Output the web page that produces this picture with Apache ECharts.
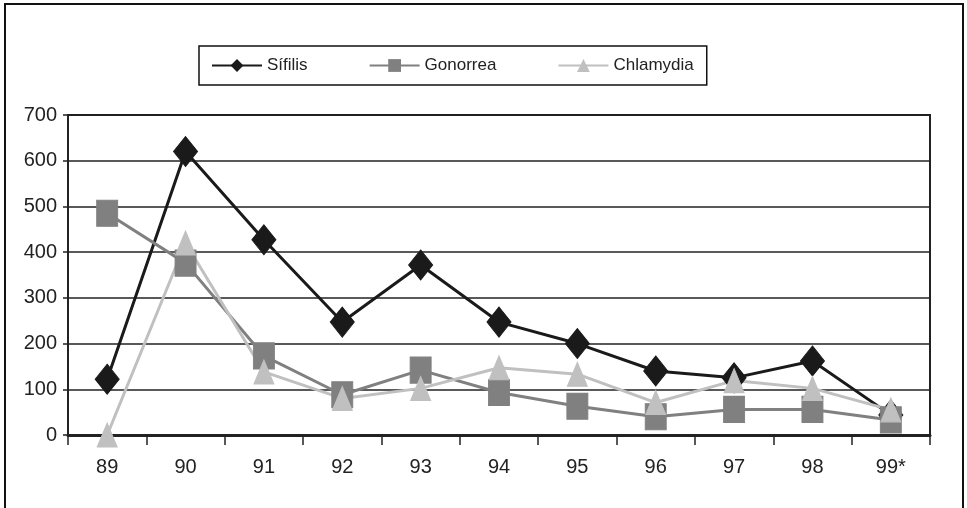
<!DOCTYPE html>
<html><head><meta charset="utf-8">
<script src="https://cdn.jsdelivr.net/npm/echarts@6/dist/echarts.min.js"></script>
<style>html,body{margin:0;padding:0;background:#fff}#c{width:967px;height:508px}</style>
</head><body><div id="c"></div>
<script>
const categories = ['89','90','91','92','93','94','95','96','97','98','99*'];
const sifilis   = [122, 620, 427, 247, 372, 247, 200, 140, 125, 162, 44];
const gonorrea  = [485, 376, 173, 88, 142, 93, 63, 40, 56, 56, 33];
const chlamydia = [0, 420, 138, 80, 102, 147, 133, 71, 119, 102, 55];
const yTicks = [0, 100, 200, 300, 400, 500, 600, 700];

const chart = echarts.init(document.getElementById('c'), null, {renderer: 'canvas'});
const font = 'Liberation Sans, Arial, sans-serif';
chart.setOption({
  animation: false,
  backgroundColor: '#fff',
  graphic: [{
    type: 'rect', shape: {x: 5, y: 4, width: 958, height: 520},
    style: {fill: 'none', stroke: '#111', lineWidth: 2}, silent: true, z: -1
  }],
  legend: {
    left: 199, top: 46,
    padding: [11, 13, 11, 12],
    borderColor: '#111', borderWidth: 1.5,
    itemWidth: 50, itemHeight: 16, itemGap: 61,
    textStyle: {fontFamily: font, fontSize: 17, color: '#222', padding: [0, 0, 0, 0]},
    data: ['Sífilis', 'Gonorrea', 'Chlamydia']
  },
  grid: {left: 68, right: 37, top: 115, bottom: 73, show: true, borderColor: '#222', borderWidth: 2, containLabel: false},
  xAxis: {
    type: 'category', data: categories, boundaryGap: true,
    axisLine: {lineStyle: {color: '#222', width: 3}},
    axisTick: {show: true, length: 10, inside: false, lineStyle: {color: '#222', width: 1.5}},
    axisLabel: {fontFamily: font, fontSize: 20, color: '#222', margin: 22}
  },
  yAxis: {
    type: 'value', min: yTicks[0], max: yTicks[yTicks.length - 1], interval: 100,
    axisLine: {show: true, lineStyle: {color: '#222', width: 2}},
    axisTick: {show: true, length: 5, lineStyle: {color: '#222', width: 1.5}},
    axisLabel: {fontFamily: font, fontSize: 20, color: '#222', margin: 11},
    splitLine: {show: true, lineStyle: {color: '#222', width: 1.5}}
  },
  series: [
    {name: 'Sífilis', type: 'line', data: sifilis, symbol: 'diamond', symbolSize: [24, 30],
     lineStyle: {color: '#1a1a1a', width: 3}, itemStyle: {color: '#1a1a1a', borderColor: '#1a1a1a'}},
    {name: 'Gonorrea', type: 'line', data: gonorrea, symbol: 'rect', symbolSize: [21, 26],
     lineStyle: {color: '#808080', width: 3}, itemStyle: {color: '#808080', borderColor: '#808080'}},
    {name: 'Chlamydia', type: 'line', data: chlamydia, symbol: 'triangle', symbolSize: [20, 24],
     lineStyle: {color: '#c0c0c0', width: 3}, itemStyle: {color: '#c0c0c0', borderColor: '#c0c0c0'}}
  ]
});
</script></body></html>
